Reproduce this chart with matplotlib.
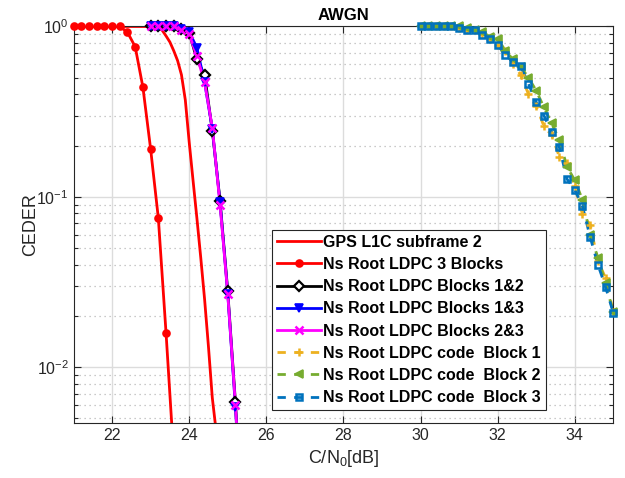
import numpy as np
import matplotlib

matplotlib.use("Agg")
import matplotlib.pyplot as plt  # noqa: E402
from matplotlib.lines import Line2D  # noqa: E402
from matplotlib.ticker import LogLocator, NullFormatter, FixedLocator  # noqa: E402

plt.rcParams["font.family"] = ["Liberation Sans", "DejaVu Sans"]
plt.rcParams["mathtext.default"] = "regular"

# ---- data ----
gps_x = [21.0, 21.5, 22.0, 22.5, 23.0, 23.1, 23.2, 23.3, 23.4, 23.5, 23.6, 23.7,
         23.8, 23.9, 24.0, 24.1, 24.2, 24.3, 24.4, 24.5, 24.6, 24.7, 24.8]
gps_y = [1.0, 1.0, 1.0, 1.0, 1.0, 1.0, 0.99, 0.95, 0.88, 0.81, 0.72, 0.63,
         0.52, 0.37, 0.21, 0.125, 0.075, 0.044, 0.025, 0.0132, 0.0066, 0.0042, 0.003]

blk3_x = [21.0, 21.2, 21.4, 21.6, 21.8, 22.0, 22.2, 22.4, 22.6, 22.8, 23.0, 23.2, 23.4, 23.6]
blk3_y = [1.0, 1.0, 1.0, 1.0, 1.0, 1.0, 1.0, 0.925, 0.76, 0.44, 0.191, 0.075, 0.0159, 0.003]

pair_x = [23.0, 23.2, 23.4, 23.6, 23.8, 24.0, 24.2, 24.4, 24.6, 24.8, 25.0, 25.2, 25.4]
b12_y = [1.0, 1.0, 1.0, 1.0, 0.97, 0.92, 0.64, 0.52, 0.245, 0.095, 0.028, 0.0062, 0.001]
b13_y = [1.0, 1.0, 1.0, 1.0, 0.97, 0.93, 0.75, 0.47, 0.25, 0.093, 0.027, 0.0058, 0.001]
b23_y = [1.0, 1.0, 1.0, 1.0, 0.96, 0.90, 0.67, 0.47, 0.255, 0.09, 0.027, 0.006, 0.001]

code_x = [30.0, 30.2, 30.4, 30.6, 30.8, 31.0, 31.2, 31.4, 31.6, 31.8, 32.0, 32.2, 32.4,
          32.6, 32.8, 33.0, 33.2, 33.4, 33.6, 33.8, 34.0, 34.2, 34.4, 34.6, 34.8, 35.0]
code1_y = [1.0, 1.0, 1.0, 1.0, 1.0, 0.98, 0.96, 0.95, 0.90, 0.85, 0.78, 0.72, 0.60,
           0.52, 0.40, 0.34, 0.26, 0.23, 0.172, 0.158, 0.115, 0.079, 0.0685, 0.042, 0.0334, 0.021]
code2_y = [1.0, 1.0, 1.0, 1.0, 1.0, 1.0, 0.98, 0.96, 0.93, 0.87, 0.85, 0.72, 0.64,
           0.58, 0.50, 0.42, 0.335, 0.27, 0.215, 0.15, 0.125, 0.096, 0.06, 0.044, 0.031, 0.021]
code3_y = [1.0, 1.0, 1.0, 1.0, 1.0, 0.975, 0.955, 0.95, 0.89, 0.845, 0.78, 0.68, 0.62,
           0.585, 0.46, 0.36, 0.30, 0.24, 0.195, 0.127, 0.11, 0.088, 0.058, 0.040, 0.0295, 0.0208]

labels = ["GPS L1C subframe 2", "Ns Root LDPC 3 Blocks", "Ns Root LDPC Blocks 1&2",
          "Ns Root LDPC Blocks 1&3", "Ns Root LDPC Blocks 2&3",
          "Ns Root LDPC code  Block 1", "Ns Root LDPC code  Block 2",
          "Ns Root LDPC code  Block 3"]

XLIM = (21, 35)
YLIM = (0.0047, 1.0)

fig = plt.figure(figsize=(6.25, 4.78), dpi=100)
ax = fig.add_axes([0.1176, 0.1151, 0.8637, 0.8295])
ax.set_yscale("log")


def draw(x, y, color, ls, marker, ms, mfc, lw=2.0, mew=1.2):
    x = np.asarray(x)
    y = np.asarray(y)
    ax.plot(x, y, color=color, ls=ls, lw=lw)
    if marker:
        # markers are not clipped at the frame (points sitting on 10^0)
        m = (y >= YLIM[0] * 0.98) & (x >= XLIM[0]) & (x <= XLIM[1])
        ax.plot(x[m], y[m], ls="none", marker=marker, ms=ms, mfc=mfc,
                mec=color, mew=mew, clip_on=False, zorder=3)
    return Line2D([], [], color=color, ls=ls, lw=lw, marker=marker, ms=ms,
                  mfc=mfc, mec=color, mew=mew)


RED = "#ff0000"
YEL = "#EDB120"
GRN = "#77AC30"
BLU = "#0072BD"

handles = [
    draw(gps_x, gps_y, RED, "-", None, 0, "none"),
    draw(blk3_x, blk3_y, RED, "-", "o", 5, RED),
    draw(pair_x, b12_y, "black", "-", "D", 5, "white", mew=1.6),
    draw(pair_x, b13_y, "#0000ff", "-", "v", 5.5, "#0000ff"),
    draw(pair_x, b23_y, "#ff00ff", "-", "x", 5.5, "#ff00ff", mew=1.8),
    draw(code_x, code1_y, YEL, (0, (3, 3)), "+", 6, YEL, mew=1.8),
    draw(code_x, code2_y, GRN, (0, (3, 3)), "<", 6, GRN, mew=1.2),
    draw(code_x, code3_y, BLU, (0, (3, 3)), "s", 5, "none", mew=1.8),
]

ax.set_xlim(*XLIM)
ax.set_ylim(*YLIM)
ax.xaxis.set_major_locator(FixedLocator([22, 24, 26, 28, 30, 32, 34]))
ax.yaxis.set_major_locator(LogLocator(base=10, numticks=10))
ax.yaxis.set_minor_locator(LogLocator(base=10, subs=np.arange(2, 10), numticks=10))
ax.yaxis.set_minor_formatter(NullFormatter())

ax.grid(True, which="major", color="#dcdcdc", lw=1.0, ls="-")
ax.grid(True, which="minor", axis="y", color="#b8b8b8", lw=0.9, ls=(0, (1, 3)))
ax.set_axisbelow(True)

ax.tick_params(which="both", direction="in", top=True, right=True,
               labelsize=11.5, colors="#262626", width=0.8)
ax.tick_params(which="major", length=5)
ax.tick_params(which="minor", length=3)
for s in ax.spines.values():
    s.set_color("#262626")
    s.set_linewidth(0.8)

ax.set_title("AWGN", fontsize=12, fontweight="bold", pad=5)
ax.set_xlabel("C/N$_0$[dB]", fontsize=13, color="#262626")
ax.set_ylabel("CEDER", fontsize=13, color="#262626", labelpad=-2)

leg = ax.legend(handles, labels, loc="lower left", bbox_to_anchor=(0.368, 0.033),
                borderaxespad=0, frameon=True, fancybox=False, framealpha=1,
                edgecolor="#262626", handlelength=2.75, handletextpad=0.15,
                labelspacing=0.45, borderpad=0.3,
                prop={"weight": "bold", "size": 11.5})
leg.get_frame().set_linewidth(0.8)

fig.savefig("out.png", dpi=100)
